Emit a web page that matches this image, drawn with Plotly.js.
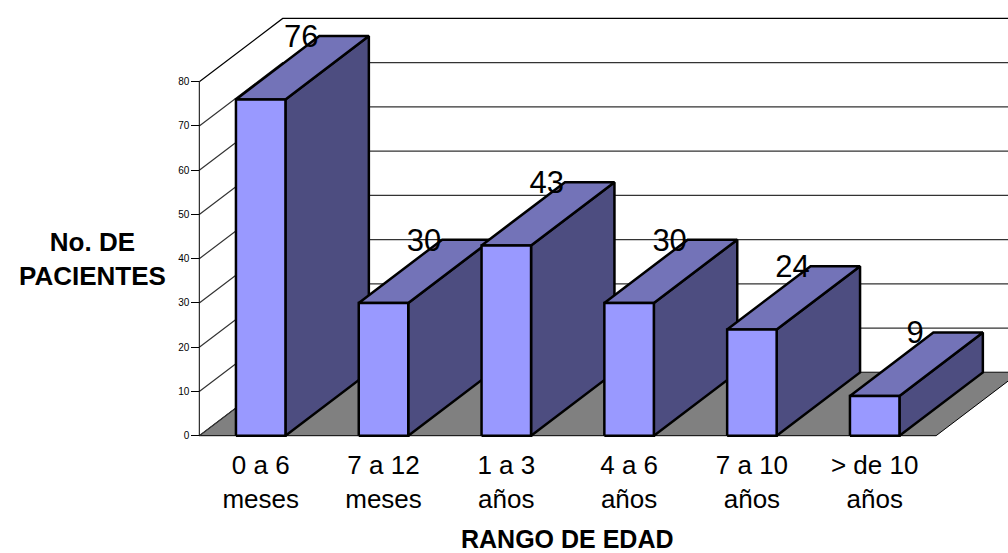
<!DOCTYPE html>
<html>
<head>
<meta charset="utf-8">
<script src="https://cdn.plot.ly/plotly-3.0.1.min.js"></script>
<style>html,body{margin:0;padding:0;background:#fff;overflow:hidden}#chart{width:1008px;height:553px}</style>
</head>
<body>
<div id="chart"></div>
<script>
var categories = ["0 a 6<br>meses", "7 a 12<br>meses", "1 a 3<br>años", "4 a 6<br>años", "7 a 10<br>años", "> de 10<br>años"];
var patients = [76, 30, 43, 30, 24, 9];
var tickValues = [0, 10, 20, 30, 40, 50, 60, 70, 80];

var W = 1008, H = 553;
var catPx = 122.8, valPx = 4.425, originX = 199.3, originY = 435.7;
var depthX = 83.4 / catPx, depthY = 63.3 / valPx;
var barWidth = 49.5 / catPx;
var FONT = '"Liberation Sans", Arial, sans-serif';

var traces = [];
function poly(xs, ys, fill, lw, lc) {
  traces.push({type: 'scatter', mode: 'lines', x: xs, y: ys, fill: 'toself', fillcolor: fill,
    line: {color: lc || '#000', width: lw}, hoverinfo: 'skip', showlegend: false});
}
function line(xs, ys, lw, lc) {
  traces.push({type: 'scatter', mode: 'lines', x: xs, y: ys,
    line: {color: lc || '#000', width: lw}, hoverinfo: 'skip', showlegend: false});
}
var n = categories.length, maxV = tickValues[tickValues.length - 1];

// floor
poly([0, n, n + depthX, depthX, 0], [0, 0, depthY, depthY, 0], '#808080', 1);
// walls: gridlines on left and back walls
tickValues.forEach(function (v) {
  line([0, depthX, n + depthX], [v, v + depthY, v + depthY], 1.2, v === maxV ? '#000' : '#333');
});
line([0, 0], [0, maxV], 1);

// bars
patients.forEach(function (v, i) {
  var x0 = i + (1 - barWidth) / 2, x1 = x0 + barWidth;
  poly([x1, x1 + depthX, x1 + depthX, x1, x1], [0, depthY, v + depthY, v, 0], '#4D4D80', 2.5);
  poly([x0, x1, x1 + depthX, x0 + depthX, x0], [v, v, v + depthY, v + depthY, v], '#7373B8', 2.5);
  poly([x0, x1, x1, x0, x0], [0, 0, v, v, 0], '#9999FF', 2.5);
});

// value labels
traces.push({type: 'scatter', mode: 'text',
  x: patients.map(function (v, i) { return i + 0.5 + 0.33; }),
  y: patients.map(function (v) { return v + depthY - 0.7; }),
  text: patients.map(String), textposition: 'middle center',
  textfont: {family: FONT, size: 31, color: '#000'}, hoverinfo: 'skip', showlegend: false, cliponaxis: false});

var layout = {
  width: W, height: H,
  margin: {l: 0, r: 0, t: 0, b: 0, pad: 0},
  paper_bgcolor: '#fff', plot_bgcolor: '#fff',
  showlegend: false,
  xaxis: {
    range: [-originX / catPx, (W - originX) / catPx],
    domain: [0, 1], anchor: 'free', position: (H - originY) / H,
    tickmode: 'array', tickvals: categories.map(function (c, i) { return i + 0.5; }),
    ticktext: categories, tickangle: 0, ticks: '', ticklen: 0,
    tickfont: {family: FONT, size: 26, color: '#000'},
    ticklabelstandoff: 11,
    showgrid: false, zeroline: false, showline: false, fixedrange: true
  },
  yaxis: {
    range: [-(H - originY) / valPx, originY / valPx],
    domain: [0, 1], anchor: 'free', position: originX / W,
    tickmode: 'array', tickvals: tickValues, ticks: 'outside', ticklen: 8, tickwidth: 1, tickcolor: '#000',
    tickfont: {family: FONT, size: 10, color: '#000'},
    showgrid: false, zeroline: false, showline: false, fixedrange: true
  },
  annotations: [
    {xref: 'paper', yref: 'paper', x: 92 / W, y: 1 - 259 / H, xanchor: 'center', yanchor: 'middle',
      text: '<b>No. DE<br>PACIENTES</b>', showarrow: false,
      font: {family: FONT, size: 26, color: '#000'}, align: 'center'},
    {xref: 'paper', yref: 'paper', x: 567 / W, y: 1 - 538.5 / H, xanchor: 'center', yanchor: 'middle',
      text: '<b>RANGO DE EDAD</b>', showarrow: false,
      font: {family: FONT, size: 25, color: '#000'}}
  ]
};
Plotly.newPlot('chart', traces, layout, {displayModeBar: false, staticPlot: true});
</script>
</body>
</html>
